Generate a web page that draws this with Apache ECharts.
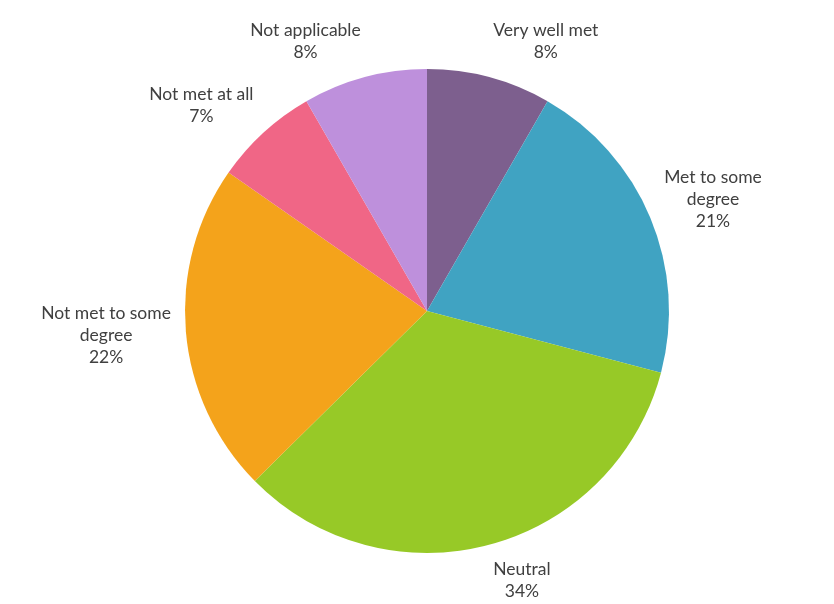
<!DOCTYPE html>
<html>
<head>
<meta charset="utf-8">
<script src="https://cdn.jsdelivr.net/npm/echarts@6/dist/echarts.min.js"></script>
<style>
  html, body { margin: 0; padding: 0; background: #fff; }
  #chart { width: 834px; height: 604px; }
</style>
</head>
<body>
<div id="chart"></div>
<script>
var categories = ['Very well met', 'Met to some\ndegree', 'Neutral', 'Not met to some\ndegree', 'Not met at all', 'Not applicable'];
var shares = [8.3, 20.8, 33.5, 22.1, 7.0, 8.3];
var sliceColors = ['#7d5f8e', '#40a3c2', '#97c927', '#f4a31b', '#f06686', '#be90dc'];

var cx = 427, cy = 311, R = 242, gap = 15;

var pieData = categories.map(function (name, i) {
  return { name: name, value: shares[i], itemStyle: { color: sliceColors[i] } };
});

// mid angle of each slice, clockwise from 12 o'clock
var total = shares.reduce(function (a, b) { return a + b; }, 0);
var midAngles = [];
var acc = 0;
shares.forEach(function (v) {
  midAngles.push((acc + v / 2) / total * Math.PI * 2);
  acc += v;
});

var chart = echarts.init(document.getElementById('chart'));

chart.setOption({
  animation: false,
  textStyle: { fontFamily: 'Lato' },
  series: [{
    type: 'pie',
    center: [cx, cy],
    radius: [0, R],
    startAngle: 90,
    clockwise: true,
    data: pieData,
    label: {
      show: true,
      position: 'outside',
      overflow: 'none',
      formatter: function (p) {
        return p.name + '\n' + Math.round(p.value) + '%';
      },
      fontSize: 17.5,
      lineHeight: 22,
      color: '#404040'
    },
    labelLine: { show: false },
    // excel-like best fit: box corner hangs off a point just outside the slice
    labelLayout: function (params) {
      var a = midAngles[params.dataIndex];
      var w = params.labelRect.width, h = params.labelRect.height;
      var s = Math.sin(a), c = Math.cos(a);
      var ax = cx + s * (R + gap), ay = cy - c * (R + gap);
      return {
        x: ax + (s >= 0 ? 1 : -1) * w / 2,
        y: ay - c * h / 2,
        align: 'center',
        verticalAlign: 'middle'
      };
    },
    emphasis: { disabled: true }
  }]
});
</script>
</body>
</html>
